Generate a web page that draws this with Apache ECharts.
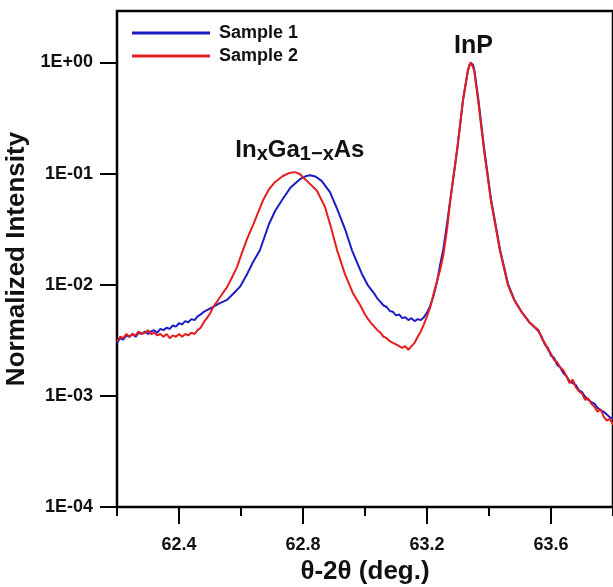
<!DOCTYPE html>
<html>
<head>
<meta charset="utf-8">
<script src="https://cdn.jsdelivr.net/npm/echarts@6/dist/echarts.min.js"></script>
<style>html,body{margin:0;padding:0;background:#fff}#c{width:613px;height:587px}</style>
</head>
<body>
<div id="c"></div>
<script>
// ---- data ----
const seriesNames = ['Sample 1', 'Sample 2'];
const xMajorTicks = [62.4, 62.8, 63.2, 63.6];
const xMinorTicks = [62.2, 62.6, 63.0, 63.4, 63.8];
const yTicks = [0.0001, 0.001, 0.01, 0.1, 1];

const sample1 = [
  [62.20,0.0030],[62.21,0.0033],[62.22,0.0032],[62.23,0.0035],[62.24,0.0034],
  [62.25,0.0036],[62.26,0.0034],[62.27,0.0037],[62.28,0.0036],[62.29,0.0038],
  [62.30,0.0036],[62.31,0.0038],[62.32,0.0039],[62.33,0.0037],[62.34,0.0040],
  [62.35,0.0039],[62.36,0.0041],[62.37,0.0040],[62.38,0.0043],[62.39,0.0042],
  [62.40,0.0045],[62.41,0.0044],[62.42,0.0047],[62.43,0.0046],[62.44,0.0049],
  [62.45,0.0048],[62.46,0.0052],[62.47,0.0054],[62.48,0.0057],[62.49,0.0059],
  [62.510,0.0063],[62.530,0.0068],[62.555,0.0073],[62.575,0.0083],[62.597,0.0096],
  [62.620,0.0125],[62.639,0.0160],[62.661,0.0204],[62.690,0.0350],[62.710,0.0460],
  [62.732,0.0575],[62.760,0.0750],[62.790,0.0890],[62.810,0.0950],[62.823,0.0965],
  [62.840,0.0940],[62.860,0.0860],[62.887,0.0680],[62.910,0.0480],[62.935,0.0320],
  [62.958,0.0204],[62.990,0.0125],[63.010,0.0098],[63.03,0.0083],[63.04,0.0075],
  [63.05,0.0070],[63.06,0.0065],[63.07,0.0063],[63.08,0.0058],[63.09,0.0057],
  [63.10,0.0053],[63.11,0.0054],[63.12,0.0050],[63.13,0.0051],[63.14,0.0048],
  [63.15,0.0050],[63.16,0.0047],[63.17,0.0049],[63.18,0.0048],[63.19,0.0051],
  [63.20,0.0056],[63.21,0.0064],[63.22,0.0078],[63.232,0.0105],[63.242,0.0150],
  [63.252,0.0204],[63.265,0.0360],[63.275,0.0575],[63.297,0.1620],[63.316,0.4550],
  [63.332,0.8470],[63.338,0.9600],[63.343,1.0000],[63.348,0.9600],[63.353,0.8470],
  [63.366,0.4550],[63.385,0.1620],[63.407,0.0575],[63.436,0.0204],[63.462,0.0100],
  [63.482,0.0073],[63.505,0.0057],[63.530,0.0046],[63.545,0.0042],[63.560,0.0038],
  [63.570,0.0034],[63.580,0.0029],[63.590,0.0027],[63.600,0.0023],[63.610,0.0022],
  [63.620,0.0019],[63.630,0.0018],[63.640,0.0016],[63.650,0.0015],[63.660,0.00135],
  [63.670,0.0013],[63.680,0.00125],[63.690,0.00112],[63.700,0.00108],[63.710,0.00098],
  [63.720,0.00092],[63.730,0.00088],[63.740,0.00085],[63.750,0.00078],[63.760,0.00074],
  [63.770,0.00072],[63.780,0.00068],[63.790,0.00064],[63.800,0.00062]
];
const sample2 = [
  [62.20,0.0031],[62.21,0.0034],[62.22,0.0033],[62.23,0.0036],[62.24,0.0034],
  [62.25,0.0036],[62.26,0.0035],[62.27,0.0038],[62.28,0.0036],[62.29,0.0037],
  [62.30,0.0039],[62.31,0.0036],[62.32,0.0037],[62.33,0.0035],[62.34,0.0036],
  [62.35,0.0034],[62.36,0.0036],[62.37,0.0033],[62.38,0.0035],[62.39,0.0034],
  [62.40,0.0036],[62.41,0.0034],[62.42,0.0036],[62.43,0.0035],[62.44,0.0037],
  [62.45,0.0036],[62.46,0.0039],[62.47,0.0041],[62.48,0.0046],[62.49,0.0050],
  [62.500,0.0055],[62.510,0.0063],[62.525,0.0072],[62.540,0.0083],[62.555,0.0095],
  [62.570,0.0115],[62.587,0.0144],[62.606,0.0204],[62.620,0.0260],[62.640,0.0350],
  [62.671,0.0575],[62.690,0.0720],[62.710,0.0840],[62.735,0.0950],[62.755,0.1010],
  [62.774,0.1030],[62.790,0.0990],[62.800,0.0925],[62.820,0.0820],[62.845,0.0700],
  [62.871,0.0500],[62.890,0.0330],[62.910,0.0204],[62.935,0.0125],[62.961,0.0084],
  [62.985,0.0065],[63.00,0.0054],[63.01,0.0049],[63.02,0.0045],[63.03,0.0042],
  [63.04,0.0039],[63.05,0.0037],[63.06,0.0034],[63.07,0.0033],[63.08,0.0031],
  [63.09,0.0030],[63.10,0.0029],[63.11,0.0028],[63.12,0.0027],[63.13,0.0028],
  [63.14,0.0026],[63.15,0.0028],[63.16,0.0030],[63.17,0.0034],[63.18,0.0038],
  [63.19,0.0044],[63.20,0.0052],[63.21,0.0062],[63.22,0.0080],[63.23,0.0102],
  [63.242,0.0135],[63.252,0.0180],[63.265,0.0320],[63.275,0.0575],[63.297,0.1620],
  [63.316,0.4550],[63.332,0.8470],[63.337,0.9500],[63.342,1.0000],[63.347,0.9600],
  [63.352,0.8470],[63.365,0.4550],[63.384,0.1620],[63.406,0.0575],[63.435,0.0204],
  [63.461,0.0099],[63.481,0.0073],[63.503,0.0058],[63.530,0.0046],[63.545,0.0042],
  [63.560,0.0039],[63.570,0.0033],[63.580,0.0030],[63.590,0.0026],[63.600,0.0024],
  [63.610,0.0021],[63.620,0.0020],[63.630,0.0018],[63.640,0.0017],[63.650,0.0015],
  [63.660,0.0013],[63.670,0.0014],[63.680,0.0012],[63.690,0.0011],[63.700,0.00105],
  [63.710,0.00092],[63.720,0.00095],[63.730,0.00085],[63.740,0.00080],[63.750,0.00072],
  [63.760,0.00076],[63.770,0.00065],[63.780,0.00060],[63.790,0.00062],[63.800,0.00055]
];
const annotations = [
  { name: 'InP', value: [63.350, 1.39] },
  { name: 'InGaAs', value: [62.790, 0.160] }
];

// ---- chart ----
const FONT = "'Liberation Sans', Arial, sans-serif";
const chart = echarts.init(document.getElementById('c'), null, { renderer: 'canvas' });
const fmtY = v => {
  const e = Math.round(Math.log10(v));
  return '1E' + (e >= 0 ? '+' : '-') + String(Math.abs(e)).padStart(2, '0');
};
const option = {
  animation: false,
  backgroundColor: '#fff',
  textStyle: { fontFamily: FONT },
  grid: {
    left: 117, top: 11, width: 496, height: 496, containLabel: false, outerBoundsMode: 'none',
    show: true, borderColor: '#000', borderWidth: 2.5, backgroundColor: 'transparent'
  },
  legend: {
    data: seriesNames, orient: 'vertical', left: 132, top: 24, padding: 0,
    itemWidth: 78, itemHeight: 3, itemGap: 5, icon: 'rect',
    textStyle: { fontFamily: FONT, fontSize: 18, fontWeight: 'bold', color: '#111', padding: [0, 0, 0, 4] }
  },
  xAxis: [
    {
      type: 'value', min: 62.2, max: 63.8, position: 'bottom',
      name: 'θ-2θ (deg.)', nameLocation: 'middle', nameGap: 52,
      nameTextStyle: { fontFamily: FONT, fontSize: 26, fontWeight: 'bold', color: '#111' },
      axisLine: { show: true, lineStyle: { color: '#000', width: 2 } },
      axisTick: { show: true, customValues: xMajorTicks, length: 17, lineStyle: { color: '#000', width: 2 } },
      axisLabel: { show: true, customValues: xMajorTicks, margin: 29, fontFamily: FONT, fontSize: 18, fontWeight: 'bold', color: '#111', formatter: v => v.toFixed(1) },
      splitLine: { show: false }
    },
    {
      type: 'value', min: 62.2, max: 63.8, position: 'bottom',
      axisLine: { show: false },
      axisTick: { show: true, customValues: xMinorTicks, length: 9, lineStyle: { color: '#000', width: 2 } },
      axisLabel: { show: false },
      splitLine: { show: false }
    }
  ],
  yAxis: {
    type: 'log', logBase: 10, min: 0.0001, max: 2.9,
    name: 'Normalized Intensity', nameLocation: 'middle', nameGap: 86,
    nameTextStyle: { fontFamily: FONT, fontSize: 26, fontWeight: 'bold', color: '#111' },
    axisLine: { show: true, lineStyle: { color: '#000', width: 2 } },
    axisTick: { show: true, customValues: yTicks, length: 17, lineStyle: { color: '#000', width: 2 } },
    axisLabel: { show: true, customValues: yTicks, margin: 24, fontFamily: FONT, fontSize: 18, fontWeight: 'bold', color: '#111', formatter: fmtY },
    splitLine: { show: false }
  },
  series: [
    { name: seriesNames[0], type: 'line', data: sample1, showSymbol: false, symbol: 'none', color: '#1c1cc4', lineStyle: { width: 2, color: '#1c1cc4' }, z: 2 },
    { name: seriesNames[1], type: 'line', data: sample2, showSymbol: false, symbol: 'none', color: '#e41e1e', lineStyle: { width: 2, color: '#e41e1e' }, z: 3 },
    {
      name: 'labels', type: 'scatter', data: annotations, symbolSize: 1,
      itemStyle: { color: 'rgba(0,0,0,0)', opacity: 1 }, z: 5, silent: true,
      label: {
        show: true, position: 'inside', color: '#111', opacity: 1,
        formatter: p => p.name === 'InP' ? '{p|InP}' : '{m|In}{s|x}{m|Ga}{s|1−x}{m|As}',
        rich: {
          p: { fontFamily: FONT, fontSize: 25, fontWeight: 'bold', color: '#111' },
          m: { fontFamily: FONT, fontSize: 24, fontWeight: 'bold', color: '#111' },
          s: { fontFamily: FONT, fontSize: 20, fontWeight: 'bold', color: '#111', padding: [7, 0, 0, 0] }
        }
      }
    }
  ]
};
chart.setOption(option);
</script>
</body>
</html>
